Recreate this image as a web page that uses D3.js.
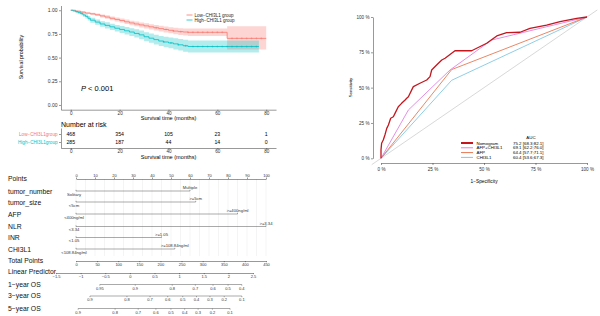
<!DOCTYPE html>
<html lang="en">
<head>
<meta charset="UTF-8">
<title>CHI3L1: survival, nomogram and ROC</title>
<style>
  body { margin: 0; background: #fff; }
  svg { display: block; font-family: "Liberation Sans", Arial, sans-serif; }
</style>
</head>
<body>
<script src="https://d3js.org/d3.v7.min.js"></script>
<script>
// ---------- Kaplan-Meier ----------
const lowTime  = [0, 2, 4, 6, 8, 10, 12, 14, 16, 18, 20, 22, 24, 26, 28, 30, 32, 34, 36, 38, 40, 42, 44, 46, 48, 64, 80];
const lowSurv  = [1, .99, .98, .97, .962, .952, .94, .928, .915, .903, .892, .878, .866, .855, .845, .835, .825, .815, .806, .797, .788, .78, .774, .77, .767, .703, .703];
const lowLower = [1, .985, .972, .96, .95, .938, .924, .91, .895, .882, .87, .855, .842, .83, .819, .808, .797, .786, .776, .766, .756, .746, .738, .732, .727, .585, .585];
const lowUpper = [1, .995, .988, .98, .974, .966, .956, .946, .935, .924, .914, .901, .89, .88, .871, .862, .853, .844, .836, .828, .82, .814, .81, .808, .807, .83, .83];
const lowCensor = [35, 39, 42, 45, 48, 50, 52, 54, 56, 58, 60, 62, 66, 68, 70, 72, 74, 76, 78];

const highTime  = [0, 1, 2, 3, 4, 5, 6, 7, 8, 10, 12, 14, 16, 18, 20, 22, 24, 26, 28, 30, 32, 34, 36, 38, 40, 42, 44, 46, 48, 77];
const highSurv  = [1, .993, .985, .975, .965, .95, .935, .915, .895, .875, .855, .84, .825, .81, .797, .783, .77, .755, .74, .72, .705, .69, .675, .665, .655, .645, .635, .625, .617, .617];
const highLower = [1, .983, .972, .96, .947, .93, .913, .891, .869, .847, .825, .808, .792, .775, .76, .744, .729, .712, .695, .673, .656, .639, .622, .61, .598, .586, .574, .563, .555, .548];
const highUpper = [1, 1, .998, .99, .983, .97, .957, .939, .921, .903, .885, .872, .858, .845, .834, .822, .811, .798, .785, .767, .754, .741, .728, .72, .712, .704, .696, .688, .68, .68];
const highCensor = [38, 41, 44, 47, 50, 52, 54, 56, 58, 60, 62, 64, 66, 68, 70, 72, 74, 76];

const groups = ["Low\u2212CHI3L1group", "High\u2212CHI3L1group"];
const groupLegend = ["Low\u2212CHI3L1 group", "High\u2212CHI3L1 group"];
const groupColors = ["#F8766D", "#00BFC4"];
const riskTimes = [0, 20, 40, 60, 80];
const riskLow = [468, 354, 105, 23, 1];
const riskHigh = [285, 187, 44, 14, 0];

// ---------- Nomogram ----------
const nomoVars = [
  { name: "tumor_number", maxPts: 60, lo: "Solitary", hi: "Multiple", y: 191 },
  { name: "tumor_size", maxPts: 63, lo: "<5cm", hi: ">=5cm", y: 202 },
  { name: "AFP", maxPts: 85, lo: "<400ng/ml", hi: ">=400ng/ml", y: 214 },
  { name: "NLR", maxPts: 100, lo: "<3.34", hi: ">=3.34", y: 226.5 },
  { name: "INR", maxPts: 45, lo: "<1.05", hi: ">=1.05", y: 237.5 },
  { name: "CHI3L1", maxPts: 52, lo: "<108.84ng/ml", hi: ">=108.84ng/ml", y: 249 }
];
const pointTicks = d3.range(0, 101, 10);
const totalTicks = d3.range(0, 451, 50);
const lpTicks = [-1.5, -1, -0.5, 0, 0.5, 1, 1.5, 2, 2.5];
const osRows = [
  { name: "1\u2212year OS", base: -2.36, ticks: [0.95, 0.9, 0.8, 0.7, 0.6, 0.5, 0.4], y: 284.5 },
  { name: "3\u2212year OS", base: -1.44, ticks: [0.9, 0.8, 0.7, 0.6, 0.5, 0.4, 0.3, 0.2, 0.1], y: 296 },
  { name: "5\u2212year OS", base: -1.2, ticks: [0.9, 0.8, 0.7, 0.6, 0.5, 0.4, 0.3, 0.2, 0.1], y: 308.5 }
];

// ---------- ROC ----------
const nomoFpr = [0, 0, .003, .011, .019, .028, .036, .047, .06, .068, .084, .1, .117, .125, .133, .157, .189, .222, .238, .246, .27, .295, .311, .359, .44, .513, .562, .61, .675, .723, .804, .869, .95, 1];
const nomoTpr = [0, .06, .106, .13, .165, .212, .236, .283, .294, .318, .365, .389, .413, .425, .436, .507, .531, .554, .578, .625, .66, .696, .708, .761, .761, .814, .866, .889, .892, .92, .943, .967, .99, 1];
const comboFpr = [0, .133, .335, .537, 1];
const comboTpr = [0, .342, .625, .837, 1];
const afpFpr = [0, .343, 1];
const afpTpr = [0, .628, 1];
const chiFpr = [0, .343, 1];
const chiTpr = [0, .552, 1];
const rocNames = ["Nomogram", "AFP+CHI3L1", "AFP", "CHI3L1"];
const rocAuc = ["75.2 [68.3;82.1]", "69.1 [62.2;76.0]", "64.4 [57.7;71.1]", "60.4 [53.6;67.3]"];
const rocColors = ["#C3161D", "#DD72DF", "#E4683F", "#72C2E0"];
const rocTicks = [0, 0.25, 0.5, 0.75, 1];

const svg = d3.select("body").append("svg").attr("width", 600).attr("height", 316);

function styleAxis(g, size, color) {
  g.attr("font-size", size).attr("font-family", null);
  g.selectAll("path, line").attr("stroke", color).attr("stroke-width", 0.5);
  g.selectAll("text").attr("fill", color);
}

// ===== survival plot =====
const sx = d3.scaleLinear().domain([-4, 84]).range([61, 276]);
const sy = d3.scaleLinear().domain([-0.05, 1.05]).range([109.7, 5.5]);

const km = svg.append("g");
const series = [
  { t: lowTime, s: lowSurv, lo: lowLower, hi: lowUpper, c: lowCensor, color: groupColors[0] },
  { t: highTime, s: highSurv, lo: highLower, hi: highUpper, c: highCensor, color: groupColors[1] }
];
series.forEach(d => {
  const pts = d.t.map((t, i) => ({ t, s: d.s[i], lo: d.lo[i], hi: d.hi[i] }));
  km.append("path")
    .attr("d", d3.area().curve(d3.curveStepAfter).x(p => sx(p.t)).y0(p => sy(p.lo)).y1(p => sy(p.hi))(pts))
    .attr("fill", d.color).attr("fill-opacity", 0.3);
});
series.forEach(d => {
  const pts = d.t.map((t, i) => ({ t, s: d.s[i] }));
  km.append("path")
    .attr("d", d3.line().curve(d3.curveStepAfter).x(p => sx(p.t)).y(p => sy(p.s))(pts))
    .attr("fill", "none").attr("stroke", d.color).attr("stroke-width", 0.8);
  const survAt = t => d.s[d3.bisectRight(d.t, t) - 1];
  km.append("g").selectAll("path").data(d.c).join("path")
    .attr("d", t => `M${sx(t) - 1},${sy(survAt(t))}h2M${sx(t)},${sy(survAt(t)) - 1}v2`)
    .attr("stroke", d.color).attr("stroke-width", 0.4);
});

km.append("g").attr("transform", "translate(61,0)")
  .call(d3.axisLeft(sy).tickValues([0, 0.25, 0.5, 0.75, 1]).tickFormat(d3.format(".2f")).tickSize(2).tickSizeOuter(0).tickPadding(1.5))
  .call(g => styleAxis(g, 5, "#333"));
km.append("g").attr("transform", "translate(0,109.7)")
  .call(d3.axisBottom(sx).tickValues(riskTimes).tickSize(1.5).tickSizeOuter(0).tickPadding(0.4))
  .call(g => styleAxis(g, 4.6, "#333"));
km.append("text").attr("x", 168.5).attr("y", 120.3).attr("text-anchor", "middle")
  .attr("font-size", 5.6).text("Survival time (months)");
km.append("text").attr("transform", "translate(23,57) rotate(-90)").attr("text-anchor", "middle")
  .attr("font-size", 5.3).text("Survival probability");
km.append("text").attr("x", 81).attr("y", 90.5).attr("font-size", 7.5)
  .call(t => { t.append("tspan").attr("font-style", "italic").text("P"); t.append("tspan").text(" < 0.001"); });

// legend
groupLegend.forEach((name, i) => {
  const y = 15 + i * 5;
  km.append("line").attr("x1", 186.5).attr("x2", 192.5).attr("y1", y).attr("y2", y)
    .attr("stroke", groupColors[i]).attr("stroke-width", 0.8);
  km.append("text").attr("x", 194.5).attr("y", y + 1.5).attr("font-size", 4.5).attr("fill", "#222").text(name);
});

// ===== risk table =====
const ry0 = d3.scalePoint().domain(groups).range([128, 148]).padding(0.75);
const risk = svg.append("g");
risk.append("text").attr("x", 61).attr("y", 126.5).attr("font-size", 7).text("Number at risk");
risk.append("g").attr("transform", "translate(61,0)")
  .call(d3.axisLeft(ry0).tickSize(2).tickSizeOuter(0).tickPadding(1.5))
  .call(g => styleAxis(g, 4.6, "#333"))
  .call(g => g.selectAll("text").attr("fill", (d, i) => groupColors[i]));
risk.append("g").attr("transform", "translate(0,148)")
  .call(d3.axisBottom(sx).tickValues(riskTimes).tickSize(1.5).tickSizeOuter(0).tickPadding(0.4))
  .call(g => styleAxis(g, 4.6, "#333"));
[riskLow, riskHigh].forEach((vals, i) => {
  risk.append("g").selectAll("text").data(vals).join("text")
    .attr("x", (v, j) => sx(riskTimes[j])).attr("y", ry0(groups[i]) + 1.8)
    .attr("text-anchor", "middle").attr("font-size", 5.2).text(v => v);
});
risk.append("text").attr("x", 168.5).attr("y", 158.8).attr("text-anchor", "middle")
  .attr("font-size", 5.6).text("Survival time (months)");

// ===== nomogram =====
const px = d3.scaleLinear().domain([0, 100]).range([76, 266]);
const tx = d3.scaleLinear().domain([0, 450]).range([76, 266]);
const lpx = d3.scaleLinear().domain([-1.5, 2.5]).range([56, 253]);
const nomo = svg.append("g");
const labelX = 8;

nomo.append("g").selectAll("line").data(d3.range(0, 101, 5)).join("line")
  .attr("x1", d => px(d)).attr("x2", d => px(d)).attr("y1", 179).attr("y2", 256)
  .attr("stroke", "#e2e2e2").attr("stroke-width", 0.4);

function rowLabel(text, y) {
  nomo.append("text").attr("x", labelX).attr("y", y + 2.3).attr("font-size", 6.8).attr("fill", "#111").text(text);
}

rowLabel("Points", 178.5);
nomo.append("g").attr("transform", "translate(0,179)")
  .call(d3.axisTop(px).tickValues(pointTicks).tickSize(1.5).tickSizeOuter(0).tickPadding(1))
  .call(g => styleAxis(g, 4, "#333"));

nomoVars.forEach(v => {
  rowLabel(v.name, v.y + 0.5);
  nomo.append("line").attr("x1", px(0)).attr("x2", px(v.maxPts)).attr("y1", v.y).attr("y2", v.y)
    .attr("stroke", "#555").attr("stroke-width", 0.5);
  [0, v.maxPts].forEach(p => nomo.append("line").attr("x1", px(p)).attr("x2", px(p))
    .attr("y1", v.y).attr("y2", v.y - 1.2).attr("stroke", "#555").attr("stroke-width", 0.5));
  nomo.append("text").attr("x", px(v.maxPts)).attr("y", v.y - 1.8).attr("text-anchor", "middle")
    .attr("font-size", 4.2).attr("fill", "#333").text(v.hi);
  nomo.append("text").attr("x", px(0) - 2).attr("y", v.y + 4.8).attr("text-anchor", "middle")
    .attr("font-size", 4.2).attr("fill", "#333").text(v.lo);
});

rowLabel("Total Points", 260.5);
nomo.append("g").attr("transform", "translate(0,261)")
  .call(d3.axisBottom(tx).tickValues(totalTicks).tickSize(1.2).tickSizeOuter(0).tickPadding(0.8))
  .call(g => styleAxis(g, 4, "#333"));

rowLabel("Linear Predictor", 272);
nomo.append("g").attr("transform", "translate(0,273)")
  .call(d3.axisBottom(lpx).tickValues(lpTicks).tickSize(1.2).tickSizeOuter(0).tickPadding(0.8).tickFormat(d => String(d).replace("-", "\u2212")))
  .call(g => styleAxis(g, 4, "#333"));

osRows.forEach(r => {
  rowLabel(r.name, r.y);
  const os = s => lpx(Math.log(-Math.log(s)) - r.base);
  const g = nomo.append("g").attr("transform", `translate(0,${r.y})`);
  g.append("line").attr("x1", os(r.ticks[0])).attr("x2", os(r.ticks[r.ticks.length - 1]))
    .attr("stroke", "#555").attr("stroke-width", 0.5);
  g.selectAll("line.t").data(r.ticks).join("line").attr("class", "t")
    .attr("x1", os).attr("x2", os).attr("y2", 1.2).attr("stroke", "#555").attr("stroke-width", 0.5);
  g.selectAll("text").data(r.ticks).join("text")
    .attr("x", os).attr("y", 5.2).attr("text-anchor", "middle").attr("font-size", 4).attr("fill", "#333")
    .text(d => String(d));
});

// ===== ROC =====
const rx = d3.scaleLinear().domain([0, 1]).range([381, 587]);
const ryr = d3.scaleLinear().domain([0, 1]).range([158.3, 17]);
const roc = svg.append("g");
roc.append("line").attr("x1", rx(-0.045)).attr("y1", ryr(-0.045)).attr("x2", rx(1.05)).attr("y2", ryr(1.05))
  .attr("stroke", "#bdbdbd").attr("stroke-width", 0.6);
const rocData = [[nomoFpr, nomoTpr], [comboFpr, comboTpr], [afpFpr, afpTpr], [chiFpr, chiTpr]];
const rocLine = d3.line().x(p => rx(p[0])).y(p => ryr(p[1]));
[3, 2, 1, 0].forEach(i => {
  const [f, t] = rocData[i];
  roc.append("path").attr("d", rocLine(f.map((v, j) => [v, t[j]])))
    .attr("fill", "none").attr("stroke", rocColors[i]).attr("stroke-width", i === 0 ? 1.3 : 0.8)
    .attr("stroke-linejoin", "round");
});
roc.append("g").attr("transform", "translate(373,0)")
  .call(d3.axisLeft(ryr).tickValues(rocTicks).tickFormat(d => d * 100 + " %").tickSize(2).tickSizeOuter(0).tickPadding(1.5))
  .call(g => styleAxis(g, 4.6, "#333"));
roc.append("g").attr("transform", "translate(0,163)")
  .call(d3.axisBottom(rx).tickValues(rocTicks).tickFormat(d => d * 100 + " %").tickSize(2).tickSizeOuter(0).tickPadding(3))
  .call(g => styleAxis(g, 4.6, "#333"));
roc.append("text").attr("x", 484).attr("y", 183).attr("text-anchor", "middle").attr("font-size", 4.8).text("1\u2212Specificity");
roc.append("text").attr("transform", "translate(352,87.6) rotate(-90)").attr("text-anchor", "middle")
  .attr("font-size", 4.3).text("Sensitivity");

roc.append("text").attr("x", 531).attr("y", 138.5).attr("text-anchor", "middle").attr("font-size", 4.4).text("AUC");
rocNames.forEach((name, i) => {
  const y = 143 + i * 4.8;
  roc.append("line").attr("x1", 461).attr("x2", 473).attr("y1", y).attr("y2", y)
    .attr("stroke", rocColors[i]).attr("stroke-width", i === 0 ? 2 : 0.9);
  roc.append("text").attr("x", 476.5).attr("y", y + 1.6).attr("font-size", 4.4).text(name);
  roc.append("text").attr("x", 513).attr("y", y + 1.6).attr("font-size", 4.4).text(rocAuc[i]);
});
</script>
</body>
</html>
